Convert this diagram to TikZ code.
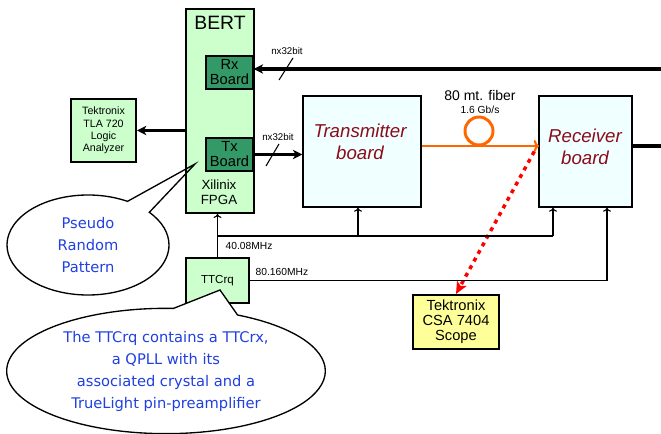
\documentclass[tikz,border=0pt]{standalone}
\usepackage{fontspec}
\setmainfont{Liberation Sans}
\newfontfamily\notefont{DejaVu Sans}
\usetikzlibrary{arrows.meta,shapes.geometric,shapes.callouts}

\definecolor{lightgreen}{HTML}{CCFFCC}
\definecolor{boardgreen}{HTML}{339966}
\definecolor{lightcyan}{HTML}{F0FFFF}
\definecolor{lightyellow}{HTML}{FFFF99}
\definecolor{darkred}{HTML}{8B0D1A}
\definecolor{fiberorange}{HTML}{FF6600}
\definecolor{noteblue}{HTML}{2040E0}

\tikzset{
  box/.style={draw, line width=1.1pt, inner sep=0pt, align=center},
  boardtext/.style={font=\fontsize{14}{16.5}\itshape\selectfont, text=darkred, align=center},
  bus/.style={line width=2.5pt, -{Stealth[length=7pt,width=7pt,inset=2pt]}},
  clk/.style={line width=0.9pt, -{To[length=3pt,width=6pt]}},
  note/.style={ellipse callout, draw, line width=1pt, inner sep=0pt, align=center,
    text=noteblue, font=\notefont\fontsize{11}{16.5}\selectfont}
}

\begin{document}
\begin{tikzpicture}[x=0.75pt, y=-0.75pt]
        \useasboundingbox (0,0) rectangle (661,434);

        % BERT
        \node[box, fill=lightgreen, line width=1.5pt, minimum width=51pt, minimum height=153pt] (bert) at (220,111) {};
        \node[font=\fontsize{14.5}{16}\selectfont] (berttitle) at (220,23) {BERT};
        \node[box, fill=boardgreen, minimum width=35.25pt, minimum height=24.75pt,
              font=\fontsize{11}{11.25}\selectfont] (rx) at (229.5,72.5) {Rx\\Board};
        \node[box, fill=boardgreen, minimum width=35.25pt, minimum height=24.75pt,
              font=\fontsize{11}{11.25}\selectfont] (tx) at (229.5,154.5) {Tx\\Board};
        \node[font=\fontsize{10}{11.25}\selectfont, align=center] (fpga) at (219,192) {Xilinix\\FPGA};

        % Instruments
        \node[box, fill=lightgreen, line width=1.5pt, minimum width=48.75pt, minimum height=47.25pt,
              font=\fontsize{8}{9.2}\selectfont] (tla) at (103.5,130.5) {Tektronix\\TLA 720\\Logic\\Analyzer};
        \node[box, fill=lightyellow, line width=1.5pt, minimum width=64.5pt, minimum height=40.5pt,
              font=\fontsize{11}{11.25}\selectfont] (scope) at (456,322) {Tektronix\\CSA 7404\\Scope};

        % Boards
        \node[box, fill=lightcyan, minimum width=88.5pt, minimum height=83.25pt] (trans) at (362,151.5) {};
        \node[boardtext] (transtext) at (360,142) {Transmitter\\board};
        \node[box, fill=lightcyan, minimum width=69.75pt, minimum height=83.25pt] (recv) at (585.5,151.5) {};
        \node[boardtext] (recvtext) at (585,147) {Receiver\\board};

        % TTCrq
        \node[box, fill=lightgreen, line width=1.5pt, minimum width=47.25pt, minimum height=33.75pt,
              font=\fontsize{8.7}{10}\selectfont] (ttcrq) at (217.5,280.5) {TTCrq};

        % Buses
        \coordinate (rxin) at (661,69);
        \coordinate (recvout) at (661,146);
        \draw[bus] (rxin) -- (rxin -| rx.east);
        \draw[bus] (tx.east) -- (tx.east -| trans.west);
        \draw[bus] (bert.west |- tla.east) -- (tla.east);
        \draw[line width=2.5pt] (recv.east |- recvout) -- (recvout);

        % Marks on the buses
        \draw[line width=0.8pt] (279,80) -- (293,58);
        \draw[line width=0.8pt] (266,166) -- (279,144);
        \node[font=\fontsize{7.3}{8}\selectfont] (rxwidth) at (287,51) {nx32bit};
        \node[font=\fontsize{7.3}{8}\selectfont] (txwidth) at (278,137) {nx32bit};

        % Fiber
        \coordinate (fiberin) at (539,146);
        \draw[fiberorange, line width=1.6pt, -{To[length=4pt,width=9pt]}] (trans.east |- fiberin) -- (fiberin);
        \node[circle, draw=fiberorange, line width=2.2pt, minimum size=21pt, inner sep=0pt] (fiberloop) at (479,131) {};
        \node[font=\fontsize{10.5}{12}\selectfont] (fiberlen) at (480,96) {80 mt. fiber};
        \node[font=\fontsize{7.7}{9}\selectfont] (fiberrate) at (480,110) {1.6 Gb/s};

        % Scope probe
        \draw[red, line width=2.6pt, dash pattern=on 3pt off 3.5pt, -{Stealth[length=9pt,width=8pt,inset=2pt]}]
              ([xshift=-3pt]recv.west) -- (scope.north);

        % Clocks
        \coordinate (clkleft) at (217.5,236);
        \coordinate (clktrans) at (358,236);
        \coordinate (clkrecv) at (553,236);
        \coordinate (clkfast) at (607,280.5);
        \draw[clk] (ttcrq.north) -- (ttcrq.north |- bert.south);
        \draw[line width=0.9pt] (clkleft) -- (clkrecv);
        \draw[clk] (clktrans) -- (clktrans |- trans.south);
        \draw[clk] (clkrecv) -- (clkrecv |- recv.south);
        \draw[clk] (ttcrq.east) -- (ttcrq.east -| clkfast) -- (clkfast |- recv.south);
        \node[anchor=west, font=\fontsize{7.7}{9}\selectfont] (slowlabel) at (221,246) {40.08MHz};
        \node[anchor=west, font=\fontsize{7.7}{9}\selectfont] (fastlabel) at (251,271.5) {80.160MHz};

        % Notes
        \node[note, minimum width=121.5pt, minimum height=75pt, callout pointer arc=20,
              callout absolute pointer={(195,164)}] (prbsnote) at (88,245) {Pseudo\\Random\\Pattern};
        \node[note, fill=white, minimum width=239pt, minimum height=94pt, callout pointer arc=24,
              callout absolute pointer={(220,290)}] (ttcnote) at (166,371)
              {The TTCrq contains a TTCrx,\\a QPLL with its\\associated crystal and a\\TrueLight pin-preamplifier};

    \end{tikzpicture}
\end{document}
